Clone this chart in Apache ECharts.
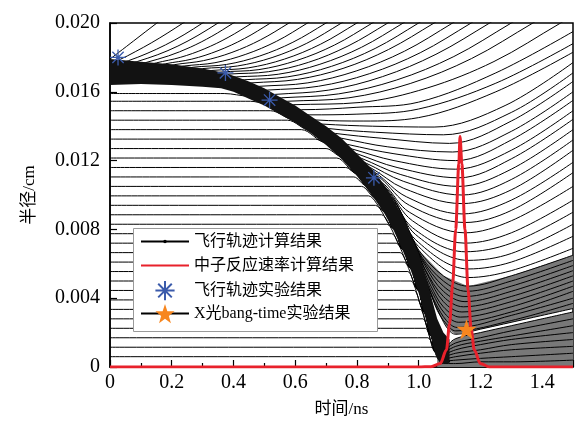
<!DOCTYPE html>
<html>
<head>
<meta charset="utf-8">
<script src="https://cdn.jsdelivr.net/npm/echarts/dist/echarts.min.js"></script>
<style>
  html, body { margin: 0; padding: 0; background: #fff; }
  #chart { width: 575px; height: 424px; }
</style>
</head>
<body>
<div id="chart"></div>
<script>
// ---- values: t in ns, r in cm ----

// dense shell band: outer and inner edge
var shellOuter = [[0, 0.0179], [0.1, 0.01775], [0.2, 0.0176], [0.3, 0.01735], [0.374, 0.0171], [0.42, 0.0168],
  [0.45, 0.0166], [0.5, 0.0162], [0.55, 0.0157], [0.6, 0.0152], [0.65, 0.0146], [0.7, 0.0140], [0.75, 0.0133],
  [0.8, 0.0124], [0.855, 0.0114], [0.9, 0.0103], [0.95, 0.0087], [1.0, 0.0066], [1.03, 0.0048], [1.06, 0.0028],
  [1.08, 0.0020], [1.1, 0.0016]];
var shellInner = [[0, 0.0164], [0.1, 0.01645], [0.2, 0.0164], [0.3, 0.0163], [0.36, 0.0162], [0.40, 0.0160],
  [0.45, 0.0156], [0.5, 0.0152], [0.55, 0.0147], [0.6, 0.0142], [0.65, 0.0136], [0.7, 0.0129], [0.75, 0.0121],
  [0.8, 0.0111], [0.83, 0.0104], [0.86, 0.0097], [0.89, 0.0089], [0.92, 0.0079], [0.95, 0.0067], [0.975, 0.0056],
  [1.0, 0.0043], [1.02, 0.0030], [1.04, 0.0017], [1.055, 0.0007], [1.07, 0.0002], [1.1, 0.0002]];

// inner (fuel) lines: start radius and the time each one starts to bend into the shell
var fuelStart = [0.0006, 0.00115, 0.0017, 0.00225, 0.0028, 0.00335, 0.0039, 0.00445, 0.005, 0.00555, 0.0061,
  0.00665, 0.0072, 0.00775, 0.0083, 0.00885, 0.0094, 0.00995, 0.0105, 0.01105, 0.0116, 0.01215, 0.0127, 0.01325,
  0.0138, 0.01435, 0.0149, 0.01545, 0.0159];
var fuelBend = [1.05, 1.04, 1.03, 1.022, 1.014, 1.005, 0.996, 0.986, 0.975, 0.965, 0.953, 0.94, 0.927, 0.913,
  0.897, 0.88, 0.86, 0.838, 0.815, 0.79, 0.763, 0.735, 0.70, 0.665, 0.62, 0.575, 0.52, 0.455, 0.37];

// blow-off lines leaving through the top
var blowLines = [
  [[0, 0.0179], [0.076, 0.01895], [0.152, 0.0200], [0.18, 0.02036]],
  [[0, 0.0177], [0.03, 0.01786], [0.0818, 0.01833], [0.1335, 0.01884], [0.185, 0.0194], [0.237, 0.0200], [0.267, 0.02036]],
  [[0.03, 0.01766], [0.06, 0.01781], [0.12, 0.01823], [0.18, 0.01873], [0.24, 0.01932], [0.30, 0.0200], [0.33, 0.02036]],
  [[0.06, 0.01761], [0.09, 0.01777], [0.155, 0.01816], [0.22, 0.01866], [0.285, 0.01928], [0.35, 0.0200], [0.38, 0.02036]],
  [[0.09, 0.01757], [0.12, 0.01772], [0.19, 0.01809], [0.26, 0.01859], [0.33, 0.01923], [0.40, 0.0200], [0.43, 0.02036]],
  [[0.12, 0.01752], [0.15, 0.01768], [0.2275, 0.0180], [0.305, 0.01849], [0.3825, 0.01916], [0.46, 0.0200], [0.49, 0.02036]],
  [[0.15, 0.01748], [0.18, 0.01763], [0.265, 0.0179], [0.35, 0.01839], [0.435, 0.01909], [0.52, 0.0200], [0.55, 0.02036]],
  [[0.18, 0.01743], [0.21, 0.01758], [0.3025, 0.01781], [0.395, 0.01829], [0.4875, 0.01902], [0.58, 0.0200], [0.61, 0.02036]],
  [[0.21, 0.01738], [0.24, 0.0175], [0.34, 0.01769], [0.44, 0.01818], [0.54, 0.01894], [0.64, 0.0200], [0.67, 0.02036]],
  [[0.24, 0.0173], [0.27, 0.01743], [0.3775, 0.01759], [0.485, 0.01808], [0.5925, 0.01888], [0.70, 0.0200], [0.73, 0.02036]],
  [[0.27, 0.01723], [0.30, 0.01735], [0.4125, 0.0175], [0.525, 0.01799], [0.6375, 0.01882], [0.75, 0.0200], [0.78, 0.02036]],
  [[0.30, 0.01715], [0.33, 0.01724], [0.4475, 0.01739], [0.565, 0.0179], [0.6825, 0.01877], [0.80, 0.0200], [0.83, 0.02036]],
  [[0.33, 0.01704], [0.36, 0.01715], [0.4825, 0.01729], [0.605, 0.01782], [0.7275, 0.01872], [0.85, 0.0200], [0.88, 0.02036]],
  [[0.355, 0.01695], [0.385, 0.01703], [0.514, 0.01717], [0.6425, 0.01771], [0.771, 0.01866], [0.90, 0.0200], [0.93, 0.02036]],
  [[0.38, 0.01685], [0.41, 0.01687], [0.545, 0.01702], [0.68, 0.0176], [0.815, 0.01859], [0.95, 0.0200], [0.98, 0.02036]],
  [[0.405, 0.01665], [0.435, 0.0167], [0.576, 0.01687], [0.7175, 0.01748], [0.859, 0.01852], [1.00, 0.0200], [1.03, 0.02036]],
  [[0.43, 0.01648], [0.46, 0.01652], [0.6075, 0.01672], [0.755, 0.01736], [0.9025, 0.01846], [1.05, 0.0200], [1.08, 0.02036]],
  [[0.455, 0.01628], [0.485, 0.01632], [0.641, 0.01652], [0.7975, 0.01721], [0.954, 0.01836], [1.11, 0.0200], [1.14, 0.02036]],
  [[0.48, 0.01608], [0.51, 0.0161], [0.675, 0.01632], [0.84, 0.01705], [1.005, 0.01827], [1.17, 0.0200], [1.20, 0.02036]],
  [[0.505, 0.01582], [0.535, 0.01585], [0.709, 0.0161], [0.8825, 0.01688], [1.056, 0.01818], [1.23, 0.0200], [1.26, 0.02036]],
  [[0.525, 0.01562], [0.555, 0.01565], [0.741, 0.01588], [0.9275, 0.01668], [1.114, 0.01805], [1.30, 0.0200], [1.33, 0.02033]],
  [[0.545, 0.01542], [0.575, 0.01545], [0.774, 0.01565], [0.9725, 0.01648], [1.171, 0.01793], [1.37, 0.0200], [1.40, 0.02033]],
  [[0.565, 0.01522], [0.595, 0.01525], [0.811, 0.01538], [1.0275, 0.01622], [1.244, 0.01776], [1.46, 0.0200], [1.49, 0.0203]]
];

// lines leaving the shell later, bottoming out and leaving through the right edge
var reboundLines = [
  [[0.59, 0.0151], [0.62, 0.01496], [0.8, 0.0151], [1.0, 0.0154], [1.25, 0.0171], [1.5, 0.0195]],
  [[0.615, 0.0148], [0.645, 0.01466], [0.8, 0.0147], [1.0, 0.0150], [1.25, 0.0165], [1.5, 0.0188]],
  [[0.64, 0.0145], [0.67, 0.01436], [0.82, 0.0143], [1.0, 0.0145], [1.25, 0.0160], [1.5, 0.0183]],
  [[0.66, 0.0142], [0.69, 0.01412], [0.85, 0.0140], [1.05, 0.01395], [1.28, 0.0152], [1.5, 0.0177]],
  [[0.68, 0.0140], [0.71, 0.01386], [0.86, 0.01365], [1.08, 0.0135], [1.3, 0.0148], [1.5, 0.0171]],
  [[0.70, 0.0137], [0.73, 0.01358], [0.88, 0.0133], [1.10, 0.0130], [1.3, 0.0143], [1.5, 0.0166]],
  [[0.72, 0.0134], [0.75, 0.0133], [0.9, 0.0128], [1.11, 0.0125], [1.3, 0.0137], [1.5, 0.0160]],
  [[0.74, 0.0131], [0.77, 0.01294], [0.92, 0.0124], [1.12, 0.0120], [1.3, 0.0132], [1.5, 0.0155]],
  [[0.755, 0.0128], [0.785, 0.01267], [0.92, 0.0120], [1.12, 0.0115], [1.3, 0.0126], [1.5, 0.0149]],
  [[0.77, 0.0126], [0.80, 0.0124], [0.93, 0.0116], [1.13, 0.0110], [1.3, 0.0121], [1.5, 0.0144]],
  [[0.785, 0.0123], [0.815, 0.01213], [0.94, 0.0112], [1.13, 0.0105], [1.3, 0.0115], [1.5, 0.0138]],
  [[0.80, 0.0120], [0.83, 0.01185], [0.95, 0.0108], [1.14, 0.0100], [1.3, 0.0109], [1.5, 0.0132]],
  [[0.815, 0.0117], [0.845, 0.01158], [0.95, 0.0104], [1.14, 0.0095], [1.3, 0.0103], [1.5, 0.0126]],
  [[0.83, 0.0115], [0.86, 0.0113], [0.96, 0.0099], [1.14, 0.0089], [1.3, 0.0097], [1.5, 0.0119]],
  [[0.845, 0.0112], [0.875, 0.0110], [0.97, 0.0094], [1.15, 0.0084], [1.3, 0.0091], [1.5, 0.0113]],
  [[0.86, 0.0109], [0.89, 0.0106], [0.97, 0.0090], [1.15, 0.0078], [1.3, 0.0085], [1.5, 0.0105]],
  [[0.87, 0.0107], [0.90, 0.0103], [0.98, 0.0085], [1.15, 0.0072], [1.3, 0.0078], [1.5, 0.0097]],
  [[0.88, 0.0104], [0.91, 0.0100], [0.98, 0.0081], [1.15, 0.0067], [1.3, 0.0072], [1.5, 0.0090]],
  [[0.89, 0.0101], [0.92, 0.0097], [0.99, 0.0077], [1.16, 0.0062], [1.3, 0.0066], [1.5, 0.0083]],
  [[0.90, 0.0098], [0.93, 0.0094], [0.99, 0.0074], [1.16, 0.0057], [1.3, 0.0061], [1.5, 0.0076]],
  [[0.91, 0.0095], [0.94, 0.0090], [1.0, 0.0070], [1.16, 0.0052], [1.3, 0.0056], [1.5, 0.0069]]
];

// dense rebound fan: top and bottom line, and the lines between
var fanTop = [[0.92, 0.0092], [0.95, 0.0086], [1.0, 0.0068], [1.08, 0.0053], [1.16, 0.0047], [1.3, 0.0053], [1.5, 0.0065]];
var fanBottom = [[1.01, 0.0056], [1.04, 0.0042], [1.07, 0.0030], [1.095, 0.0022], [1.12, 0.0019], [1.2, 0.0022], [1.35, 0.0028], [1.5, 0.0034]];
var fanLines = [
  [[0.93, 0.0090], [0.96, 0.0082], [1.01, 0.0064], [1.08, 0.0050], [1.155, 0.0044], [1.3, 0.0050], [1.5, 0.0062]],
  [[0.94, 0.0087], [0.97, 0.0078], [1.01, 0.0063], [1.08, 0.0047], [1.15, 0.0041], [1.3, 0.0047], [1.5, 0.0059]],
  [[0.95, 0.0084], [0.98, 0.0074], [1.02, 0.0059], [1.08, 0.0044], [1.15, 0.0038], [1.3, 0.0044], [1.5, 0.0056]],
  [[0.96, 0.0080], [0.99, 0.0069], [1.02, 0.0057], [1.08, 0.0041], [1.145, 0.0035], [1.3, 0.0041], [1.5, 0.0053]],
  [[0.97, 0.0076], [1.0, 0.0065], [1.03, 0.0053], [1.08, 0.0038], [1.14, 0.0032], [1.3, 0.0038], [1.5, 0.0050]],
  [[0.98, 0.0072], [1.01, 0.0059], [1.04, 0.0047], [1.08, 0.0035], [1.135, 0.0029], [1.3, 0.0035], [1.5, 0.0047]],
  [[0.99, 0.0067], [1.02, 0.0053], [1.045, 0.0043], [1.085, 0.0031], [1.13, 0.0026], [1.3, 0.0032], [1.5, 0.0044]],
  [[1.0, 0.0062], [1.03, 0.0047], [1.055, 0.0037], [1.09, 0.0027], [1.125, 0.0023], [1.3, 0.0030], [1.5, 0.0040]],
  [[1.0, 0.0058], [1.035, 0.0045], [1.06, 0.0033], [1.09, 0.0025], [1.12, 0.0021], [1.3, 0.0027], [1.5, 0.0037]]
];

// compressed core after stagnation
var coreTop = [[1.06, 0.0006], [1.09, 0.0012], [1.12, 0.00165], [1.2, 0.0020], [1.3, 0.0024], [1.4, 0.0028], [1.5, 0.0032]];
var coreLines = [
  [[1.07, 0.0008], [1.12, 0.0014], [1.2, 0.0017], [1.3, 0.0021], [1.5, 0.0028]],
  [[1.07, 0.0007], [1.12, 0.0012], [1.2, 0.0015], [1.3, 0.0018], [1.5, 0.0024]],
  [[1.07, 0.0006], [1.12, 0.0010], [1.2, 0.0013], [1.3, 0.0016], [1.5, 0.0020]],
  [[1.07, 0.0005], [1.12, 0.0008], [1.2, 0.0010], [1.3, 0.0013], [1.5, 0.0016]],
  [[1.07, 0.0004], [1.12, 0.0006], [1.2, 0.0008], [1.3, 0.0010], [1.5, 0.0012]],
  [[1.07, 0.0003], [1.12, 0.0004], [1.2, 0.0005], [1.3, 0.0006], [1.5, 0.0008]],
  [[1.07, 0.0002], [1.12, 0.0002], [1.2, 0.0003], [1.3, 0.0003], [1.5, 0.0004]]
];

// neutron reaction rate, drawn on the radius scale
var rateT = [0, 1.0, 1.04, 1.07, 1.09, 1.10, 1.11, 1.12, 1.13, 1.134, 1.14, 1.15, 1.16, 1.17, 1.18, 1.20, 1.23, 1.5];
var rateR = [0, 0, 0.00002, 0.0002, 0.0010, 0.0025, 0.0048, 0.0080, 0.0118, 0.0134, 0.0118, 0.0080, 0.0045,
  0.0022, 0.0010, 0.0002, 0, 0];

// experiment
var expTraj = [[0.026, 0.0180], [0.374, 0.0171], [0.517, 0.01552], [0.855, 0.0110]];
var bangTime = [[1.155, 0.0022]];

var legendNames = ['飞行轨迹计算结果', '中子反应速率计算结果', '飞行轨迹实验结果', 'X光bang-time实验结果'];

var fontLatin = "'Liberation Serif', 'DejaVu Serif', serif";
var fontMix = "'Liberation Serif', 'Noto Sans CJK SC', serif";

var chart = echarts.init(document.getElementById('chart'));
var series = [];

function blackLine(pts, monotone) {
  series.push({
    name: legendNames[0],
    type: 'line',
    data: pts,
    smooth: 0.35,
    smoothMonotone: monotone ? 'x' : undefined,
    // tiny dot in a padded box, only seen in the legend
    symbol: 'path://M-10,-10L-10,-10M10,10L10,10M-1.8,0A1.8,1.8,0,1,1,1.8,0A1.8,1.8,0,1,1,-1.8,0Z',
    showSymbol: false,
    silent: true,
    z: 2,
    lineStyle: { color: '#000', width: 1 },
    itemStyle: { color: '#000' }
  });
}

function fill(upper, lower, color) {
  series.push({
    type: 'custom',
    coordinateSystem: 'cartesian2d',
    silent: true,
    z: 1,
    clip: true,
    data: [[0, 0]],
    renderItem: function (params, api) {
      var pts = upper.concat(lower.slice().reverse()).map(function (p) { return api.coord(p); });
      return { type: 'polygon', shape: { points: pts }, style: { fill: color } };
    }
  });
}

fuelStart.forEach(function (r0, i) {
  var tb = fuelBend[i];
  var pts = [[0, r0], [tb, r0]];
  shellInner.forEach(function (p) {
    if (p[0] > tb + 0.03 && p[1] < r0 - 0.0002) pts.push([p[0], p[1] + 0.00015]);
  });
  blackLine(pts, true);
});
blowLines.forEach(function (l) { blackLine(l); });
reboundLines.forEach(function (l) { blackLine(l); });
blackLine(fanTop);
fanLines.forEach(function (l) { blackLine(l); });
blackLine(fanBottom);
blackLine(coreTop);
coreLines.forEach(function (l) { blackLine(l); });

fill(fanTop, fanBottom, '#787878');
fill(coreTop, [[1.06, 0], [1.5, 0]], '#787878');

// the shell band, filled between its two edges
series.push({
  type: 'custom',
  coordinateSystem: 'cartesian2d',
  silent: true,
  z: 3,
  clip: true,
  data: [[0, 0]],
  renderItem: function (params, api) {
    var pts = shellOuter.concat(shellInner.slice().reverse()).map(function (p) { return api.coord(p); });
    return { type: 'polygon', shape: { points: pts }, style: { fill: '#121212' } };
  }
});

series.push({
  name: legendNames[1],
  type: 'line',
  data: rateT.map(function (t, i) { return [t, rateR[i]]; }),
  smooth: 0.3,
  smoothMonotone: 'x',
  symbol: 'circle',
  showSymbol: false,
  z: 5,
  lineStyle: { color: '#e8212b', width: 3 },
  itemStyle: { color: 'transparent' }
});

// measured points: a line series with an invisible line, so its legend row lines up with the others
series.push({
  name: legendNames[2],
  type: 'line',
  data: expTraj,
  symbol: 'path://M0,-10L0,10M-10,0L10,0M-7.07,-7.07L7.07,7.07M-7.07,7.07L7.07,-7.07',
  symbolSize: 16,
  showSymbol: true,
  z: 6,
  lineStyle: { opacity: 0 },
  itemStyle: { color: 'transparent', borderColor: '#3b5bab', borderWidth: 1.3 }
});

series.push({
  name: legendNames[3],
  type: 'line',
  data: bangTime,
  symbol: 'path://M0,-10L2.35,-3.24L9.51,-3.09L3.8,1.24L5.88,8.09L0,4L-5.88,8.09L-3.8,1.24L-9.51,-3.09L-2.35,-3.24Z',
  symbolSize: 20,
  showSymbol: true,
  z: 6,
  lineStyle: { color: '#000', width: 1 },
  itemStyle: { color: '#f7861f' }
});

// one legend per row so the rows sit at fixed heights inside the box
var legends = legendNames.map(function (name, i) {
  return {
    left: 140,
    top: 232 + 24 * i,
    itemWidth: 48,
    itemHeight: 24,
    padding: 0,
    z: 20,
    selectedMode: false,
    textStyle: { fontFamily: fontMix, fontSize: 16, color: '#000' },
    data: [name]
  };
});

var option = {
  animation: false,
  backgroundColor: '#fff',
  grid: { left: 110, right: 2, top: 23, bottom: 57, show: true, borderColor: '#000', borderWidth: 1.5 },
  graphic: [{
    type: 'rect',
    left: 133,
    top: 228,
    z: 10,
    shape: { width: 244, height: 103 },
    style: { fill: '#fff', stroke: '#9a9a9a', lineWidth: 1 }
  }],
  legend: legends,
  xAxis: {
    type: 'value',
    min: 0,
    max: 1.5,
    interval: 0.2,
    name: '时间/ns',
    nameLocation: 'middle',
    nameGap: 34,
    nameTextStyle: { fontFamily: fontMix, fontSize: 17, color: '#000' },
    axisLine: { onZero: false, lineStyle: { color: '#000', width: 1.5 } },
    axisTick: { inside: true, length: 7, lineStyle: { color: '#000', width: 1.2 } },
    minorTick: { show: true, splitNumber: 2, length: 4, lineStyle: { color: '#000', width: 1.2 } },
    axisLabel: {
      margin: 6,
      showMaxLabel: false,
      fontFamily: fontLatin,
      fontSize: 20,
      color: '#000',
      formatter: function (v) { return v === 0 ? '0' : v.toFixed(1); }
    },
    splitLine: { show: false }
  },
  yAxis: {
    type: 'value',
    min: 0,
    max: 0.02,
    interval: 0.004,
    name: '半径/cm',
    nameLocation: 'middle',
    nameGap: 72,
    nameRotate: 90,
    nameTextStyle: { fontFamily: fontMix, fontSize: 17, color: '#000' },
    axisLine: { onZero: false, lineStyle: { color: '#000', width: 1.5 } },
    axisTick: { inside: true, length: 7, lineStyle: { color: '#000', width: 1.2 } },
    axisLabel: {
      margin: 10,
      fontFamily: fontLatin,
      fontSize: 20,
      color: '#000',
      formatter: function (v) { return v === 0 ? '0' : v.toFixed(3); }
    },
    splitLine: { show: false }
  },
  series: series
};

chart.setOption(option);
</script>
</body>
</html>
